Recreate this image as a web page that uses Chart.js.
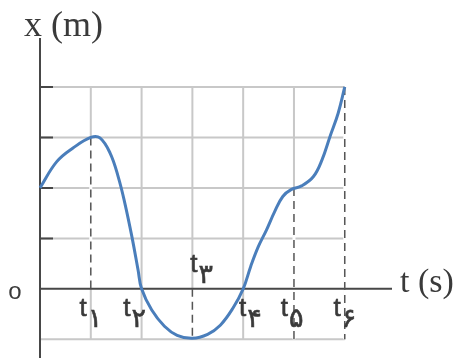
<!DOCTYPE html>
<html>
<head>
<meta charset="utf-8">
<script src="https://cdn.jsdelivr.net/npm/chart.js@4.4.1/dist/chart.umd.min.js"></script>
<style>
  html, body { margin: 0; padding: 0; background: #fff; }
  #wrap { width: 458px; height: 358px; }
</style>
</head>
<body>
<div id="wrap"><canvas id="graficoPosicao" width="458" height="358"></canvas></div>
<script>
// posição x(t) ao longo da curva
const tempos   = [0, 0.33, 0.65, 1, 1.18, 1.38, 1.54, 1.67, 1.81, 1.93, 2, 2.2, 2.45, 2.7, 3, 3.3, 3.55, 3.8, 4, 4.15, 4.3, 4.46, 4.62, 4.78, 4.95, 5.15, 5.38, 5.55, 5.71, 5.87, 6];
const posicoes = [2.0, 2.52, 2.79, 3.0, 2.99, 2.69, 2.22, 1.70, 1.03, 0.38, 0, -0.42, -0.74, -0.92, -0.98, -0.9, -0.72, -0.38, 0, 0.45, 0.84, 1.17, 1.53, 1.83, 1.97, 2.04, 2.22, 2.55, 3.02, 3.48, 4.0];

// instantes marcados no eixo do tempo
const instantes = [1, 2, 3, 4, 5, 6];
const indices   = ["۱", "۲", "۳", "۴", "۵", "۶"];
const rotuloZero = "o";

// linhas tracejadas: instante, de x, até x
const guiaT   = [1, 3, 5, 6];
const guiaDe  = [3, 0, 2, 4];
const guiaAte = [0, -0.98, -1, -1];

// grade
const gradeT = [1, 2, 3, 4, 5, 6];
const gradeX = [-1, 1, 2, 3, 4];
const marcasX = [1, 2, 3, 4];

// deslocamento dos rótulos t (px) e se ficam acima do eixo
const desvioRotulo = [-3, -10, 6, 4, -5, -3];
const acimaEixo    = [false, false, true, false, false, false];

const COR_EIXO = "#474747";
const COR_GRADE = "#c8c8c8";
const COR_TEXTO = "#3a3a3a";

const eixosGrade = {
    id: "eixosGrade",
    beforeDatasetsDraw(chart) {
        const { ctx, scales: { x, y } } = chart;
        const x0 = x.getPixelForValue(0);
        const x6 = x.getPixelForValue(6);
        ctx.save();
        ctx.lineWidth = 2;
        ctx.strokeStyle = COR_GRADE;
        ctx.beginPath();
        gradeT.forEach(t => {
            const px = x.getPixelForValue(t);
            ctx.moveTo(px, y.getPixelForValue(-1));
            ctx.lineTo(px, y.getPixelForValue(4));
        });
        gradeX.forEach(v => {
            const py = y.getPixelForValue(v);
            ctx.moveTo(x0, py);
            ctx.lineTo(x6, py);
        });
        ctx.stroke();

        // fundo branco sob os tracejados
        ctx.strokeStyle = "#ffffff";
        ctx.lineWidth = 3;
        ctx.beginPath();
        guiaT.forEach((t, i) => {
            const px = x.getPixelForValue(t);
            ctx.moveTo(px, y.getPixelForValue(guiaDe[i]));
            ctx.lineTo(px, y.getPixelForValue(guiaAte[i]));
        });
        ctx.stroke();

        // eixos
        ctx.strokeStyle = COR_EIXO;
        ctx.lineWidth = 2;
        ctx.beginPath();
        ctx.moveTo(x0, y.top);
        ctx.lineTo(x0, y.bottom);
        ctx.moveTo(x0, y.getPixelForValue(0));
        ctx.lineTo(x.right, y.getPixelForValue(0));
        marcasX.forEach(v => {
            const py = y.getPixelForValue(v);
            ctx.moveTo(x0, py);
            ctx.lineTo(x0 + 13, py);
        });
        ctx.stroke();
        ctx.restore();
    },
    afterDatasetsDraw(chart) {
        const { ctx, scales: { x, y } } = chart;
        const yEixo = y.getPixelForValue(0);
        ctx.save();
        ctx.fillStyle = COR_TEXTO;
        ctx.strokeStyle = COR_TEXTO;

        ctx.font = '36px "Liberation Serif"';
        ctx.textBaseline = "alphabetic";
        ctx.textAlign = "left";
        ctx.fillText("x (m)", 24, 36);
        ctx.font = '34px "Liberation Serif"';
        ctx.fillText("t (s)", x.right + 8, yEixo + 3);

        instantes.forEach((t, i) => {
            const cx = x.getPixelForValue(t) + desvioRotulo[i];
            const base = acimaEixo[i] ? yEixo - 17 : yEixo + 27;
            ctx.font = '26px "Liberation Sans"';
            ctx.textAlign = "right";
            ctx.lineWidth = 0.6;
            ctx.fillText("t", cx - 1, base);
            ctx.strokeText("t", cx - 1, base);
            ctx.font = '27px "DejaVu Sans"';
            ctx.textAlign = "left";
            ctx.lineWidth = 0.6;
            ctx.fillText(indices[i], cx, base + 11);
            ctx.strokeText(indices[i], cx, base + 11);
        });

        ctx.font = '24px "Liberation Sans"';
        ctx.textAlign = "center";
        ctx.fillText(rotuloZero, 15, yEixo + 10);
        ctx.restore();
    }
};

const datasets = [{
    data: tempos.map((t, i) => ({ x: t, y: posicoes[i] })),
    borderColor: "#4a7ebb",
    borderWidth: 3,
    pointRadius: 0,
    showLine: true,
    tension: 0.4,
    clip: false
}];

guiaT.forEach((t, i) => {
    datasets.push({
        data: [{ x: t, y: guiaDe[i] }, { x: t, y: guiaAte[i] }],
        borderColor: "#555555",
        borderWidth: 1.5,
        borderDash: [8, 5],
        pointRadius: 0,
        showLine: true,
        clip: false
    });
});

new Chart(document.getElementById("graficoPosicao").getContext("2d"), {
    type: "scatter",
    data: { datasets },
    options: {
        responsive: false,
        animation: false,
        layout: { padding: { left: 40, right: 66, top: 38, bottom: 0 } },
        plugins: { legend: { display: false }, tooltip: { enabled: false } },
        scales: {
            x: { type: "linear", min: 0, max: 6.93, display: false },
            y: { type: "linear", min: -1.37, max: 4.97, display: false }
        }
    },
    plugins: [eixosGrade]
});
</script>
</body>
</html>
